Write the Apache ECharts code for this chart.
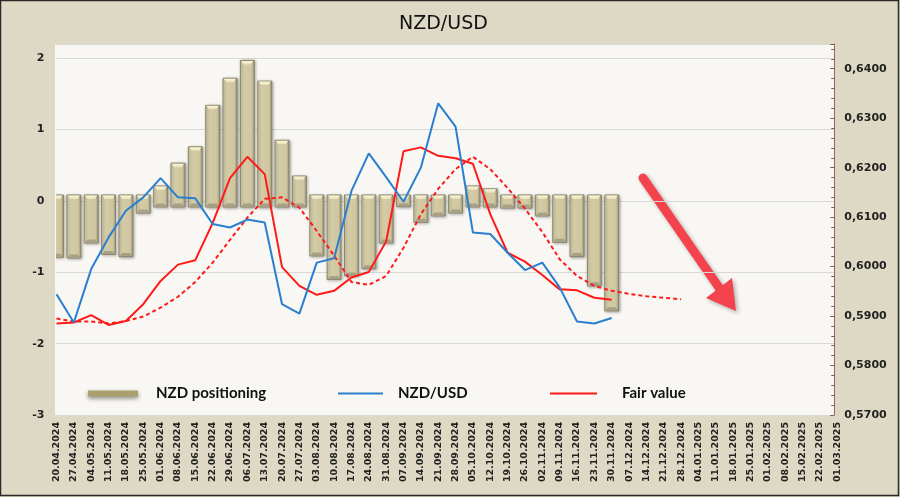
<!DOCTYPE html>
<html>
<head>
<meta charset="utf-8">
<script src="https://cdn.jsdelivr.net/npm/echarts@6/dist/echarts.min.js"></script>
<style>html,body{margin:0;padding:0;background:#DDD9C4;}#c{width:900px;height:497px;}</style>
</head>
<body>
<div id="c"></div>
<script>
const categories = ['20.04.2024','27.04.2024','04.05.2024','11.05.2024','18.05.2024','25.05.2024','01.06.2024','08.06.2024','15.06.2024','22.06.2024','29.06.2024','06.07.2024','13.07.2024','20.07.2024','27.07.2024','03.08.2024','10.08.2024','17.08.2024','24.08.2024','31.08.2024','07.09.2024','14.09.2024','21.09.2024','28.09.2024','05.10.2024','12.10.2024','19.10.2024','26.10.2024','02.11.2024','09.11.2024','16.11.2024','23.11.2024','30.11.2024','07.12.2024','14.12.2024','21.12.2024','28.12.2024','04.01.2025','11.01.2025','18.01.2025','25.01.2025','01.02.2025','08.02.2025','15.02.2025','22.02.2025','01.03.2025'];
const positioning = [-0.79,-0.80,-0.59,-0.75,-0.78,-0.17,0.21,0.53,0.76,1.34,1.72,1.97,1.68,0.85,0.35,-0.77,-1.10,-1.05,-0.95,-0.59,-0.08,-0.30,-0.21,-0.17,0.21,0.17,-0.10,-0.10,-0.21,-0.58,-0.78,-1.19,-1.54];
const nzdusd = [0.5944,0.5887,0.5995,0.6059,0.6113,0.6140,0.6179,0.6140,0.6138,0.6086,0.6079,0.6095,0.6089,0.5924,0.5905,0.6008,0.6017,0.6153,0.6229,0.6181,0.6131,0.6200,0.6330,0.6283,0.6069,0.6066,0.6028,0.5993,0.6008,0.5958,0.5889,0.5885,0.5896];
const fairValue = [0.5885,0.5887,0.5902,0.5882,0.5890,0.5924,0.5971,0.6004,0.6013,0.6088,0.6179,0.6222,0.6187,0.5999,0.5961,0.5943,0.5951,0.5978,0.5989,0.6051,0.6233,0.6241,0.6224,0.6219,0.6208,0.6106,0.6028,0.6010,0.5983,0.5954,0.5952,0.5937,0.5933];
const fairTrend = [0.5895,0.5889,0.5889,0.5885,0.5890,0.5899,0.5917,0.5939,0.5969,0.6008,0.6054,0.6099,0.6137,0.6140,0.6119,0.6072,0.6022,0.5969,0.5963,0.5981,0.6038,0.6106,0.6157,0.6197,0.6222,0.6197,0.6159,0.6117,0.6070,0.6015,0.5981,0.5961,0.5951,0.5945,0.5940,0.5937,0.5934];
const leftTicks = {min: -3, max: 2.2, interval: 1};
const rightTicks = {min: 0.57, max: 0.645, interval: 0.01};

const chart = echarts.init(document.getElementById('c'), null, {renderer: 'canvas'});

function renderBar(params, api) {
  const i = api.value(0), v = api.value(1);
  const p0 = api.coord([i, 0]);
  const p1 = api.coord([i, v]);
  const step = api.coord([1, 0])[0] - api.coord([0, 0])[0];
  const w = step * 0.8;
  const x = p0[0] - w / 2;
  const ext = 6;
  let top, bot;
  if (v >= 0) { top = p1[1]; bot = p0[1] + ext; } else { top = p0[1] - ext; bot = p1[1]; }
  const h = bot - top;
  return {
    type: 'group',
    children: [
      {type: 'rect', shape: {x: x, y: top, width: w, height: h},
       style: {fill: new echarts.graphic.LinearGradient(0, 0, 1, 0, [
         {offset: 0, color: '#E4DDBE'}, {offset: 0.15, color: '#D6CEA8'},
         {offset: 0.8, color: '#CFC6A0'}, {offset: 1, color: '#9E977A'}]),
         stroke: '#8A856A', lineWidth: 1,
         shadowBlur: 3, shadowColor: 'rgba(0,0,0,0.35)', shadowOffsetX: 1, shadowOffsetY: 1}},
      {type: 'polygon', shape: {points: [[x + 1, top + 0.5], [x + w - 1, top + 0.5], [x + w - 3, top + 4], [x + 3, top + 4]]},
       style: {fill: new echarts.graphic.LinearGradient(0, 0, 0, 1, [
         {offset: 0, color: '#FBF6DA'}, {offset: 1, color: '#E8E0B8'}])}},
      {type: 'polygon', shape: {points: [[x + 1, bot - 0.5], [x + w - 1, bot - 0.5], [x + w - 3, bot - 3.5], [x + 3, bot - 3.5]]},
       style: {fill: '#A7A084'}}
    ]
  };
}

const fmtRight = v => v.toFixed(4).replace('.', ',');
const fontAx = 'DejaVu Sans';

const option = {
  backgroundColor: '#DDD9C4',
  animation: false,
  title: {text: 'NZD/USD', left: 394, top: 10,
    textStyle: {fontFamily: fontAx, fontSize: 19, fontWeight: 'normal', color: '#111'}},
  grid: {left: 56.5, right: 62.75, top: 44, bottom: 82},
  graphic: [
    {type: 'rect', z: -10, silent: true, shape: {x: 55, y: 44, width: 780, height: 371}, style: {fill: '#F8F7F3'}},
    {type: 'rect', z: 100, silent: true, shape: {x: 0.5, y: 0.5, width: 898, height: 495}, style: {fill: 'none', stroke: '#2A2A2A', lineWidth: 1.5}},
    {type: 'group', z: 100, silent: true, children: [
      {type: 'line', shape: {x1: 643, y1: 178, x2: 720, y2: 289},
       style: {stroke: '#F4434C', lineWidth: 9, lineCap: 'round', shadowBlur: 4, shadowColor: 'rgba(0,0,0,0.3)', shadowOffsetX: 2, shadowOffsetY: 2}},
      {type: 'polygon', shape: {points: [[706, 298], [732, 278], [736, 311]]},
       style: {fill: '#F4434C', shadowBlur: 4, shadowColor: 'rgba(0,0,0,0.3)', shadowOffsetX: 2, shadowOffsetY: 2}}
    ]}
  ],
  legend: [
    {left: 88, top: 386, padding: 0, selectedMode: false, itemWidth: 50, itemHeight: 6,
     data: [{name: 'NZD positioning', icon: 'rect', itemStyle: {color: '#A9A06E', shadowBlur: 4, shadowColor: 'rgba(0,0,0,0.45)', shadowOffsetY: 2}}],
     textStyle: {fontFamily: 'Lato', fontWeight: 'bold', fontSize: 15, color: '#111', padding: [0, 0, 0, 13]}},
    {left: 338, top: 386, padding: 0, selectedMode: false, itemWidth: 45, itemHeight: 2,
     data: [{name: 'NZD/USD', icon: 'rect', itemStyle: {color: '#2A7FCF'}}],
     textStyle: {fontFamily: 'Lato', fontWeight: 'bold', fontSize: 15, color: '#111', padding: [0, 0, 0, 10]}},
    {left: 550, top: 386, padding: 0, selectedMode: false, itemWidth: 47, itemHeight: 2,
     data: [{name: 'Fair value', icon: 'rect', itemStyle: {color: '#FF1A1A'}}],
     textStyle: {fontFamily: 'Lato', fontWeight: 'bold', fontSize: 15, color: '#111', padding: [0, 0, 0, 20]}}
  ],
  xAxis: {
    type: 'category', data: categories, boundaryGap: false,
    axisLine: {show: false}, axisTick: {show: false},
    axisLabel: {interval: 0, rotate: 90, margin: 7, fontFamily: fontAx, fontWeight: 'bold', fontSize: 9.5, color: '#222'},
    splitLine: {show: false}
  },
  yAxis: [
    {type: 'value', position: 'left', min: leftTicks.min, max: leftTicks.max, interval: leftTicks.interval,
     axisLine: {show: false}, axisTick: {show: false},
     axisLabel: {showMaxLabel: false, margin: 12, fontFamily: fontAx, fontWeight: 'bold', fontSize: 11, color: '#222'},
     splitLine: {show: true, lineStyle: {color: '#D8D8D4', width: 1}}},
    {type: 'value', position: 'right', offset: -3, min: rightTicks.min, max: rightTicks.max, interval: rightTicks.interval,
     axisLine: {show: true, lineStyle: {color: '#A0605A', width: 1}},
     axisTick: {show: true, inside: true, length: 4, lineStyle: {color: '#7A5A55'}},
     minorTick: {show: true, splitNumber: 5, length: 3, lineStyle: {color: '#7A5A55'}},
     axisLabel: {showMaxLabel: false, margin: 10, formatter: fmtRight, fontFamily: fontAx, fontWeight: 'bold', fontSize: 11, color: '#222'},
     splitLine: {show: false}}
  ],
  series: [
    {name: 'NZD positioning', type: 'custom', yAxisIndex: 0, clip: true, z: 2,
     itemStyle: {color: '#A9A06E'},
     data: positioning.map((v, i) => [i, v]), renderItem: renderBar},
    {name: 'Fair value trend', type: 'line', yAxisIndex: 1, z: 3, data: fairTrend, symbol: 'none',
     lineStyle: {color: '#FF1A1A', width: 2, type: [4, 3]}, itemStyle: {color: '#FF1A1A'}},
    {name: 'Fair value', type: 'line', yAxisIndex: 1, z: 4, data: fairValue, symbol: 'none',
     lineStyle: {color: '#FF1A1A', width: 2}, itemStyle: {color: '#FF1A1A'}},
    {name: 'NZD/USD', type: 'line', yAxisIndex: 1, z: 5, data: nzdusd, symbol: 'none',
     lineStyle: {color: '#2A7FCF', width: 2}, itemStyle: {color: '#2A7FCF'}}
  ]
};
chart.setOption(option);
</script>
</body>
</html>
